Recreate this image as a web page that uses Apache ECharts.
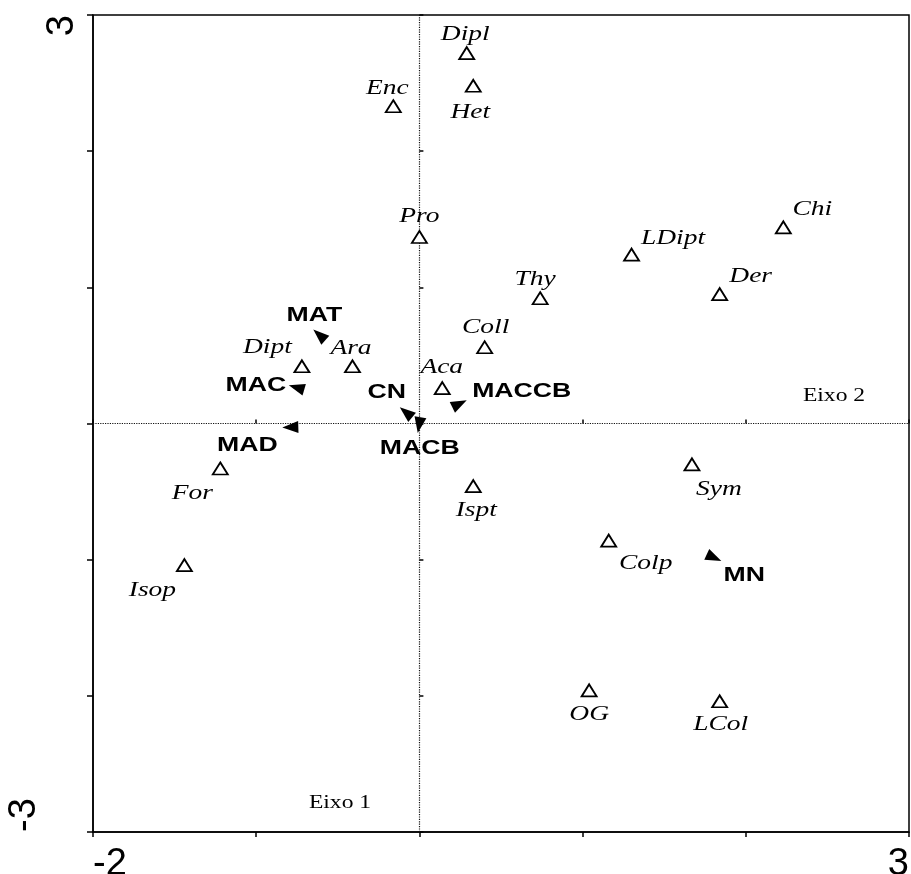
<!DOCTYPE html>
<html>
<head>
<meta charset="utf-8">
<script src="https://cdn.jsdelivr.net/npm/echarts@6/dist/echarts.min.js"></script>
<style>html,body{margin:0;padding:0;background:#fff;}#main{width:911px;height:874px;}</style>
</head>
<body>
<div id="main"></div>
<script>
// ---- data ----
const speciesNames = ['Dipl','Het','Enc','Pro','Chi','LDipt','Der','Thy','Coll','Dipt','Ara','Aca','For','Sym','Ispt','Colp','Isop','OG','LCol'];
const speciesX = [0.29, 0.33, -0.16, 0.00, 2.23, 1.30, 1.84, 0.74, 0.40, -0.72, -0.41, 0.14, -1.22, 1.67, 0.33, 1.16, -1.44, 1.04, 1.84];
const speciesY = [2.72, 2.48, 2.33, 1.37, 1.44, 1.24, 0.95, 0.92, 0.56, 0.42, 0.42, 0.26, -0.33, -0.30, -0.46, -0.86, -1.04, -1.96, -2.04];
const envNames = ['MAT','MAC','MAD','CN','MACB','MACCB','MN'];
const envX = [-0.65, -0.80, -0.84, -0.12, -0.01, 0.29, 1.85];
const envY = [0.69, 0.28, -0.03, 0.12, -0.07, 0.17, -1.01];
const xTickLabels = ['-2', '3'];
const yTickLabels = ['-3', '3'];
const axisNames = ['Eixo 1', 'Eixo 2'];

// ---- label placement (pixels, relative to the mark) ----
const speciesLabelOffsets = [[-1.5,-19],[-3,27],[-6,-18],[0,-20],[29,-18],[41.5,-16.5],[31,-18],[-5,-19],[1,-19.5],[-34.5,-19],[-1.5,-18],[-0.5,-20],[-28,25],[27,25],[3,24],[37,23],[-32,25],[0,24],[1,23]];
const envLabelOffsets = [[1,-14],[-33,0],[-35,18],[-13,-15],[2,15.5],[55,-9],[23,14]];

const speciesData = speciesNames.map((n, i) => [speciesX[i], speciesY[i]]);
const envData = envNames.map((n, i) => [envX[i], envY[i]]);

const chart = echarts.init(document.getElementById('main'), null, {renderer: 'canvas'});

function tickFmt(list) {
  return function (v) {
    const s = String(v);
    return list.indexOf(s) >= 0 ? s : '';
  };
}

const baseAxis = {
  type: 'value',
  splitLine: {show: false},
};

const option = {
  backgroundColor: '#fff',
  animation: false,
  grid: {
    left: 93, right: 2, top: 15, bottom: 42,
    show: true, borderColor: '#000', borderWidth: 1.5,
    outerBoundsMode: 'none', containLabel: false
  },
  xAxis: [
    Object.assign({}, baseAxis, {
      min: -2, max: 3, interval: 1,
      axisLine: {show: true, onZero: false, lineStyle: {color: '#000', width: 1.5}},
      axisTick: {show: true, inside: false, length: 5, lineStyle: {color: '#000', width: 1.5}},
      axisLabel: {
        show: true, formatter: tickFmt(xTickLabels), fontSize: 38,
        fontFamily: 'Liberation Sans', color: '#000', margin: 14,
        showMinLabel: true, showMaxLabel: true,
        alignMinLabel: 'left', alignMaxLabel: 'right'
      }
    }),
    Object.assign({}, baseAxis, {
      min: -2, max: 3, interval: 1, position: 'bottom',
      axisLine: {show: false},
      axisTick: {show: true, inside: true, length: 4, lineStyle: {color: '#000', width: 1.5}},
      axisLabel: {show: false}
    })
  ],
  yAxis: [
    Object.assign({}, baseAxis, {
      min: -3, max: 3, interval: 1,
      axisLine: {show: true, onZero: false, lineStyle: {color: '#000', width: 1.5}},
      axisTick: {show: true, inside: false, length: 6, lineStyle: {color: '#000', width: 1.5}},
      axisLabel: {
        show: true, formatter: tickFmt(yTickLabels), fontSize: 38, rotate: 90,
        fontFamily: 'Liberation Sans', color: '#000', margin: 49,
        showMinLabel: true, showMaxLabel: true,
        alignMinLabel: 'left', alignMaxLabel: 'right',
        verticalAlignMinLabel: 'bottom', verticalAlignMaxLabel: 'top'
      }
    }),
    Object.assign({}, baseAxis, {
      min: -3, max: 3, interval: 1, position: 'left',
      axisLine: {show: false},
      axisTick: {show: true, inside: true, length: 4, lineStyle: {color: '#000', width: 1.5}},
      axisLabel: {show: false}
    })
  ],
  graphic: [
    {type: 'text', x: 340, y: 803.5, scaleX: 1.24, silent: true,
     style: {text: axisNames[0], font: '19px "Liberation Serif"', align: 'center', verticalAlign: 'middle', fill: '#000'}},
    {type: 'text', x: 834, y: 396, scaleX: 1.24, silent: true,
     style: {text: axisNames[1], font: '19px "Liberation Serif"', align: 'center', verticalAlign: 'middle', fill: '#000'}}
  ],
  series: [
    {
      type: 'scatter',
      name: 'species',
      data: speciesData,
      symbol: 'triangle',
      symbolSize: [15, 12],
      itemStyle: {color: '#fff', borderColor: '#000', borderWidth: 1.8, opacity: 1},
      z: 3,
      silent: true,
      markLine: {
        silent: true,
        symbol: ['none', 'none'],
        label: {show: false},
        lineStyle: {type: 'dotted', color: '#111', width: 1.2},
        data: [{xAxis: 0}, {yAxis: 0}],
        z: 1
      }
    },
    {
      type: 'custom',
      name: 'speciesLabels',
      data: speciesData,
      silent: true,
      clip: false,
      z: 4,
      renderItem: function (params, api) {
        const i = params.dataIndex;
        const p = api.coord([api.value(0), api.value(1)]);
        const off = speciesLabelOffsets[i];
        return {
          type: 'text',
          x: p[0] + off[0], y: p[1] + off[1], scaleX: 1.34,
          style: {text: speciesNames[i], font: 'italic 20.5px "Liberation Serif"', align: 'center', verticalAlign: 'middle', fill: '#000'}
        };
      }
    },
    {
      type: 'custom',
      name: 'env',
      data: envData,
      silent: true,
      clip: false,
      z: 5,
      renderItem: function (params, api) {
        const i = params.dataIndex;
        const o = api.coord([0, 0]);
        const t = api.coord([api.value(0), api.value(1)]);
        const dx = t[0] - o[0], dy = t[1] - o[1];
        const len = Math.sqrt(dx * dx + dy * dy) || 1;
        const ux = dx / len, uy = dy / len;
        const L = 16, W = 6;
        const bx = t[0] - ux * L, by = t[1] - uy * L;
        const pts = [[t[0], t[1]], [bx - uy * W, by + ux * W], [bx + uy * W, by - ux * W]];
        const off = envLabelOffsets[i];
        return {
          type: 'group',
          children: [
            {type: 'polygon', shape: {points: pts}, style: {fill: '#000'}},
            {type: 'text', x: t[0] + off[0], y: t[1] + off[1], scaleX: 1.3,
             style: {text: envNames[i], font: 'bold 20.5px "Liberation Sans"', align: 'center', verticalAlign: 'middle', fill: '#000'}}
          ]
        };
      }
    }
  ]
};
chart.setOption(option);
</script>
</body>
</html>
